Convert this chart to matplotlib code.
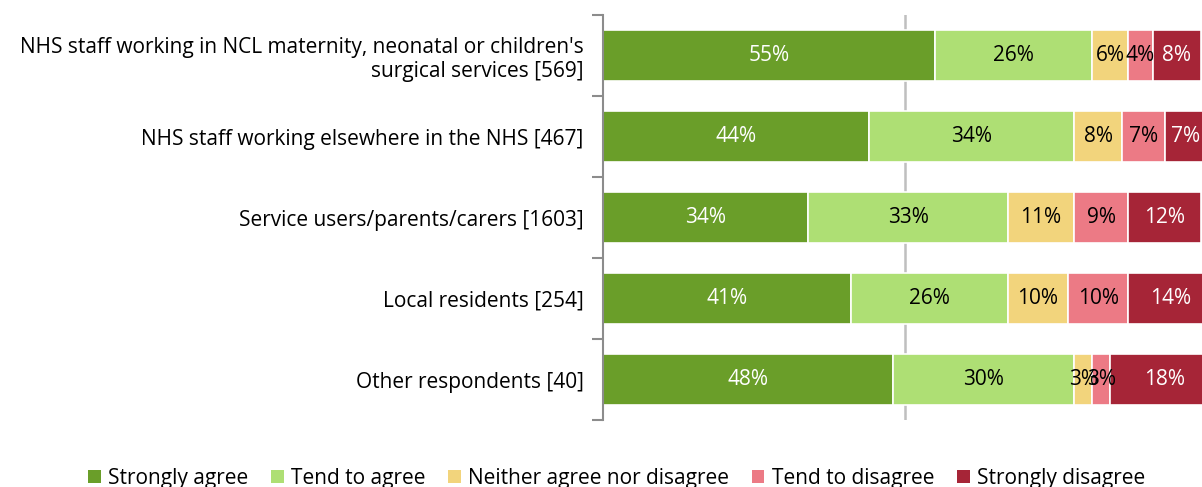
import matplotlib

matplotlib.use("Agg")
import matplotlib.pyplot as plt
from matplotlib.patches import Patch
import numpy as np

# ── Data ─────────────────────────────────────────────────────────────
groups = [
    "NHS staff working in NCL maternity, neonatal or children's\nsurgical services [569]",
    "NHS staff working elsewhere in the NHS [467]",
    "Service users/parents/carers [1603]",
    "Local residents [254]",
    "Other respondents [40]",
]
responses = [
    "Strongly agree",
    "Tend to agree",
    "Neither agree nor disagree",
    "Tend to disagree",
    "Strongly disagree",
]
strongly_agree = [55, 44, 34, 41, 48]
tend_agree = [26, 34, 33, 26, 30]
neither = [6, 8, 11, 10, 3]
tend_disagree = [4, 7, 9, 10, 3]
strongly_disagree = [8, 7, 12, 14, 18]

colors = ["#6A9E29", "#AEDF74", "#F2D47C", "#EC7A85", "#A62537"]
text_colors = ["white", "black", "black", "black", "white"]

plt.rcParams["font.family"] = ["Open Sans", "DejaVu Sans"]
FS = 15

fig = plt.figure(figsize=(12.02, 4.87), dpi=100)
ax = fig.add_axes([603 / 1202, 1 - 420 / 487, 604 / 1202, 405 / 487])

series = [strongly_agree, tend_agree, neither, tend_disagree, strongly_disagree]
y = np.arange(len(groups))
left = np.zeros(len(groups))

ax.axvline(50, color="#BFBFBF", linewidth=1.8, zorder=0)

for vals, col, tcol in zip(series, colors, text_colors):
    vals = np.array(vals, dtype=float)
    ax.barh(y, vals, left=left, height=0.64, color=col,
            edgecolor="white", linewidth=1.2, zorder=2)
    for yi, (l, v) in enumerate(zip(left, vals)):
        ax.text(l + v / 2, yi, f"{int(v)}%", ha="center", va="center",
                color=tcol, fontsize=FS, zorder=3)
    left += vals

ax.set_xlim(0, 100)
ax.set_ylim(len(groups) - 0.5, -0.5)
ax.set_xticks([])

# category labels at bar centres, boundary ticks between categories
ax.set_yticks(y)
ax.set_yticklabels(groups, fontsize=FS, multialignment="right")
ax.tick_params(axis="y", which="major", length=0, pad=14)
ax.set_yticks(np.arange(-0.5, len(groups)), minor=True)
ax.tick_params(axis="y", which="minor", length=8, width=1.5, color="#8C8C8C")

for side in ["top", "right", "bottom"]:
    ax.spines[side].set_visible(False)
ax.spines["left"].set_color("#8C8C8C")
ax.spines["left"].set_linewidth(1.5)

handles = [Patch(facecolor=c, edgecolor="none") for c in colors]
fig.legend(handles, responses, loc="lower center", ncol=5,
           bbox_to_anchor=(0.513, -0.043), frameon=False, fontsize=FS,
           handlelength=0.6, handleheight=0.6, handletextpad=0.35,
           columnspacing=1.1)

fig.savefig("out.png", dpi=100)
